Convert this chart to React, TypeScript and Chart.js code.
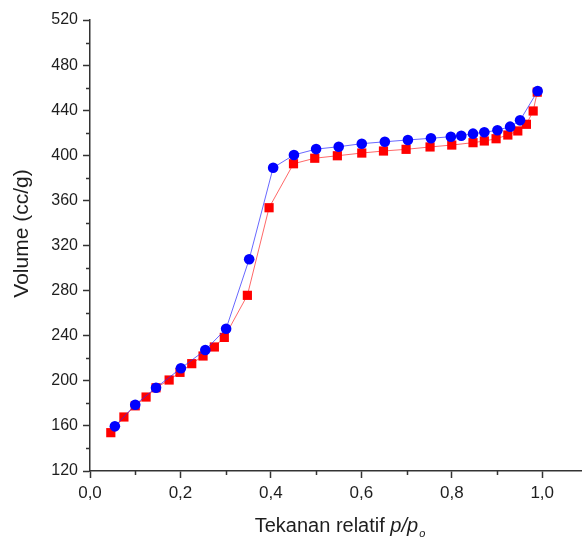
import React, { useEffect, useRef } from 'react';
import { Chart, registerables } from 'chart.js';

Chart.register(...registerables);

// Desorption (blue circles)
const desorpX = [0.055, 0.100, 0.146, 0.201, 0.255, 0.301, 0.352, 0.405, 0.451, 0.500, 0.550, 0.601, 0.652, 0.703, 0.754, 0.798, 0.821, 0.847, 0.872, 0.901, 0.929, 0.951, 0.990];
const desorpY = [159.6, 178.8, 193.9, 211.1, 227.3, 246.2, 307.8, 389.0, 400.3, 405.5, 407.6, 410.3, 412.0, 413.6, 415.1, 416.5, 417.4, 419.2, 420.4, 422.2, 425.4, 431.0, 457.0];

// Adsorption (red squares)
const adsorpX = [0.046, 0.075, 0.100, 0.124, 0.146, 0.175, 0.199, 0.225, 0.250, 0.275, 0.297, 0.348, 0.396, 0.450, 0.497, 0.547, 0.601, 0.649, 0.699, 0.752, 0.800, 0.847, 0.872, 0.898, 0.924, 0.946, 0.965, 0.980, 0.989];
const adsorpY = [154.0, 167.9, 177.8, 185.6, 193.8, 200.7, 207.5, 215.2, 222.0, 230.0, 238.5, 275.8, 353.5, 392.5, 397.4, 399.6, 402.0, 403.8, 405.3, 407.4, 409.1, 411.2, 412.7, 414.7, 418.0, 421.6, 427.5, 439.3, 456.0];

const xTickValues = [0, 0.1, 0.2, 0.3, 0.4, 0.5, 0.6, 0.7, 0.8, 0.9, 1.0];
const xLabelValues = [0, 0.2, 0.4, 0.6, 0.8, 1.0];
const yTickValues = [120, 140, 160, 180, 200, 220, 240, 260, 280, 300, 320, 340, 360, 380, 400, 420, 440, 460, 480, 500, 520];
const yLabelValues = [120, 160, 200, 240, 280, 320, 360, 400, 440, 480, 520];

const yTitle = 'Volume (cc/g)';
const xTitleMain = 'Tekanan relatif ';
const xTitleItalic = 'p/p';
const xTitleSub = 'o';

const FONT = '"Liberation Sans", Arial, Helvetica, sans-serif';
const AXIS_COLOR = '#333333';
const TEXT_COLOR = '#1e1e1e';

const isIn = (arr: number[], v: number) => arr.some((a) => Math.abs(a - v) < 1e-6);

const axisExtras = {
  id: 'axisExtras',
  afterDraw(chart: any) {
    const ctx = chart.ctx;
    const xs = chart.scales.x;
    const ys = chart.scales.y;
    const area = chart.chartArea;
    ctx.save();
    // minor ticks
    ctx.strokeStyle = AXIS_COLOR;
    ctx.lineWidth = 1.5;
    ctx.beginPath();
    xTickValues.forEach((v) => {
      if (isIn(xLabelValues, v)) return;
      const px = Math.round(xs.getPixelForValue(v)) + 0.5;
      ctx.moveTo(px, area.bottom);
      ctx.lineTo(px, area.bottom + 4);
    });
    yTickValues.forEach((v) => {
      if (isIn(yLabelValues, v)) return;
      const py = Math.round(ys.getPixelForValue(v)) + 0.5;
      ctx.moveTo(area.left, py);
      ctx.lineTo(area.left - 4, py);
    });
    ctx.stroke();

    // y title
    ctx.fillStyle = TEXT_COLOR;
    ctx.save();
    ctx.translate(22, (area.top + area.bottom) / 2 - 12);
    ctx.rotate(-Math.PI / 2);
    ctx.font = `21px ${FONT}`;
    ctx.textAlign = 'center';
    ctx.textBaseline = 'middle';
    ctx.fillText(yTitle, 0, 0);
    ctx.restore();

    // x title with italic part and subscript
    const mainFont = `20px ${FONT}`;
    const italFont = `italic 20px ${FONT}`;
    const subFont = `italic 11px ${FONT}`;
    ctx.font = mainFont;
    const w1 = ctx.measureText(xTitleMain).width;
    ctx.font = italFont;
    const w2 = ctx.measureText(xTitleItalic).width;
    ctx.font = subFont;
    const w3 = ctx.measureText(xTitleSub).width;
    const total = w1 + w2 + w3 + 1;
    const cx = 340;
    let x0 = cx - total / 2;
    const base = 532;
    ctx.textAlign = 'left';
    ctx.textBaseline = 'alphabetic';
    ctx.font = mainFont;
    ctx.fillText(xTitleMain, x0, base);
    x0 += w1;
    ctx.font = italFont;
    ctx.fillText(xTitleItalic, x0, base);
    x0 += w2 + 1;
    ctx.font = subFont;
    ctx.fillText(xTitleSub, x0, base + 5);
    ctx.restore();
  },
};

export default function App() {
  const ref = useRef<HTMLCanvasElement | null>(null);

  useEffect(() => {
    if (!ref.current) return;
    const chart = new Chart(ref.current, {
      type: 'scatter',
      data: {
        datasets: [
          {
            label: 'Desorpsi',
            data: desorpX.map((x, i) => ({ x, y: desorpY[i] })),
            showLine: true,
            borderColor: 'rgba(40, 40, 255, 0.7)',
            borderWidth: 1,
            backgroundColor: '#0000ff',
            pointBackgroundColor: '#0000ff',
            pointBorderColor: '#0000ff',
            pointBorderWidth: 0,
            pointStyle: 'circle',
            pointRadius: 5.3,
            tension: 0,
          },
          {
            label: 'Adsorpsi',
            data: adsorpX.map((x, i) => ({ x, y: adsorpY[i] })),
            showLine: true,
            borderColor: 'rgba(255, 40, 40, 0.7)',
            borderWidth: 1,
            backgroundColor: '#ff0000',
            pointBackgroundColor: '#ff0000',
            pointBorderColor: '#ff0000',
            pointBorderWidth: 0,
            pointStyle: 'rect',
            pointRadius: 6.5,
            tension: 0,
          },
        ],
      },
      options: {
        animation: false,
        responsive: false,
        devicePixelRatio: 1,
        layout: { autoPadding: false, padding: { top: 20, right: 0, bottom: 0, left: 0 } },
        plugins: {
          legend: { display: false },
          tooltip: { enabled: false },
        },
        scales: {
          x: {
            type: 'linear',
            min: 0,
            max: 1.088,
            afterBuildTicks: (scale: any) => {
              scale.ticks = xTickValues.map((v) => ({ value: v }));
            },
            afterFit: (scale: any) => {
              scale.height = 71;
              scale.paddingRight = 0;
              scale.paddingLeft = 0;
            },
            ticks: {
              autoSkip: false,
              maxRotation: 0,
              padding: 5,
              color: TEXT_COLOR,
              font: { family: FONT, size: 17 },
              callback: (v: any) => (isIn(xLabelValues, Number(v)) ? Number(v).toFixed(1).replace('.', ',') : ''),
            },
            grid: {
              display: true,
              drawOnChartArea: false,
              drawTicks: true,
              tickLength: 7,
              tickWidth: 1.5,
              tickColor: (ctx: any) => (ctx.tick && isIn(xLabelValues, ctx.tick.value) ? AXIS_COLOR : 'rgba(0,0,0,0)'),
            },
            border: { display: true, color: AXIS_COLOR, width: 1.5 },
          },
          y: {
            type: 'linear',
            min: 120,
            max: 520,
            afterBuildTicks: (scale: any) => {
              scale.ticks = yTickValues.map((v) => ({ value: v }));
            },
            afterFit: (scale: any) => {
              scale.width = 90;
              scale.paddingTop = 0;
              scale.paddingBottom = 0;
            },
            ticks: {
              autoSkip: false,
              padding: 5,
              color: TEXT_COLOR,
              font: { family: FONT, size: 16 },
              callback: (v: any) => (isIn(yLabelValues, Number(v)) ? String(v) : ''),
            },
            grid: {
              display: true,
              drawOnChartArea: false,
              drawTicks: true,
              tickLength: 7,
              tickWidth: 1.5,
              tickColor: (ctx: any) => (ctx.tick && isIn(yLabelValues, ctx.tick.value) ? AXIS_COLOR : 'rgba(0,0,0,0)'),
            },
            border: { display: true, color: AXIS_COLOR, width: 1.5 },
          },
        },
      },
      plugins: [axisExtras],
    });
    return () => chart.destroy();
  }, []);

  return (
    <div style={{ position: 'fixed', left: 0, top: 0, width: 582, height: 542, background: '#ffffff' }}>
      <canvas ref={ref} width={582} height={542} style={{ display: 'block' }} />
    </div>
  );
}
